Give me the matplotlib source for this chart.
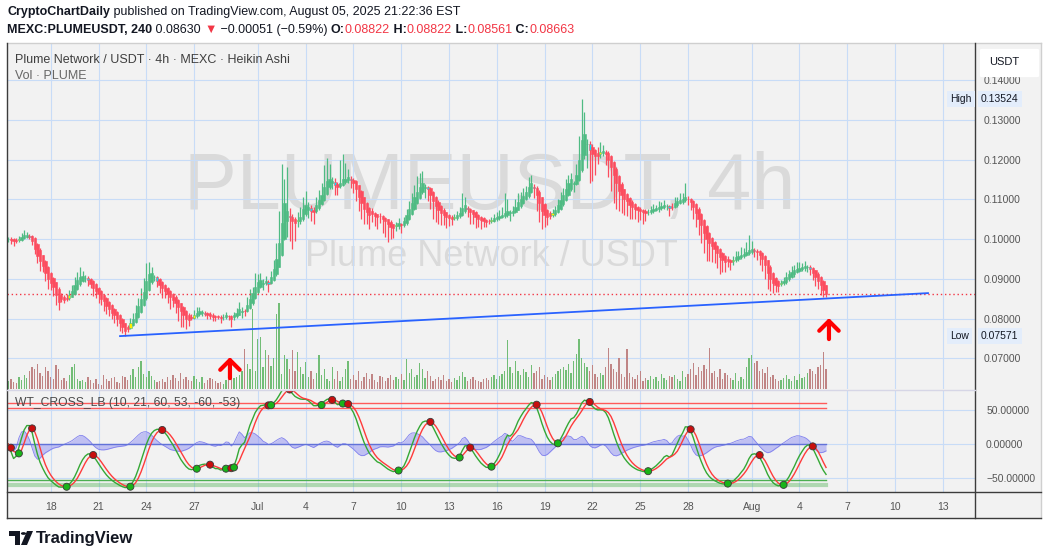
import numpy as np
import pandas as pd
import matplotlib
matplotlib.use("Agg")
import matplotlib.pyplot as plt
from matplotlib.patches import Rectangle, FancyBboxPatch, Polygon, Circle
from matplotlib.lines import Line2D
from matplotlib.transforms import blended_transform_factory

plt.rcParams['font.family'] = ['Liberation Sans', 'DejaVu Sans']

W, H, DPI = 1050, 557, 100

# ---- data: PLUME/USDT 4h Heikin Ashi (prices in 1e-4 USDT) ----
ha_close = [
    1000, 998, 995, 996, 1000, 1005, 1010, 1010, 1006, 996,
    975, 958, 945, 932, 915, 900, 890, 880, 860, 842,
    850, 848, 850, 860, 870, 885, 898, 905, 907,
    903, 898, 888, 878, 870, 862, 850, 845, 832, 825,
    815, 810, 800, 788, 778, 770, 775, 790, 800, 815,
    832, 850, 868, 895, 912, 915, 905, 895, 885,
    878, 870, 862, 855, 848, 838, 830, 818, 810, 800,
    796, 802, 810, 815, 818, 815, 812, 810, 807, 805,
    803, 805, 802, 805, 808, 806, 800, 808, 815,
    825, 820, 818, 835, 850, 865, 880, 892, 897, 890,
    895, 888, 905, 925, 950, 990, 1040, 1090, 1070, 1055,
    1045, 1040, 1048, 1055, 1075, 1085, 1080, 1070, 1068, 1085,
    1098, 1110, 1130, 1145, 1150, 1145, 1135, 1130, 1140,
    1150, 1152, 1155, 1148, 1140, 1125, 1105, 1090, 1075, 1068,
    1060, 1062, 1058, 1055, 1058, 1050, 1045, 1038, 1030, 1028,
    1035, 1040, 1035, 1045, 1060, 1075, 1090, 1105, 1118, 1130,
    1140, 1132, 1125, 1110, 1095, 1082, 1072, 1065, 1060,
    1055, 1052, 1050, 1055, 1060, 1065, 1078, 1085, 1075, 1068,
    1062, 1055, 1050, 1048, 1045, 1043, 1045, 1048, 1052, 1055,
    1058, 1060, 1065, 1070, 1066, 1070, 1080, 1092, 1100,
    1108, 1118, 1130, 1140, 1128, 1110, 1090, 1070, 1060, 1055,
    1058, 1065, 1072, 1085, 1098, 1110, 1125, 1140, 1150, 1140,
    1160, 1200, 1250, 1265, 1240, 1225, 1215, 1210, 1210,
    1218, 1222, 1215, 1200, 1180, 1160, 1140, 1120, 1110, 1100,
    1095, 1085, 1080, 1075, 1072, 1070, 1068, 1065, 1068, 1072,
    1075, 1078, 1080, 1082, 1085, 1083, 1078, 1080, 1090,
    1095, 1098, 1100, 1105, 1100, 1092, 1080, 1065, 1050, 1035,
    1015, 1000, 990, 982, 975, 965, 955, 948, 942, 945,
    942, 948, 955, 958, 960, 962, 968, 972, 975, 970,
    968, 960, 950, 935, 915, 900, 890, 885, 882,
    890, 895, 905, 912, 918, 922, 925, 928, 930, 932,
    930, 925, 915, 905, 895, 885, 872, 862,
]
up_wick = [
    5, 4, 3, 6, 8, 10, 13, 8, 4, 3,
    3, 2, 4, 2, 3, 2, 3, 2, 2, 3,
    6, 5, 10, 12, 15, 20, 18, 25, 12,
    6, 4, 3, 2, 3, 2, 2, 3, 2, 2,
    2, 3, 2, 2, 3, 2, 6, 12, 15, 18,
    20, 28, 35, 45, 30, 15, 5, 3, 3,
    3, 2, 3, 2, 2, 3, 2, 2, 3, 2,
    4, 8, 12, 15, 10, 6, 5, 4, 6, 4,
    3, 5, 4, 6, 8, 4, 3, 8, 12,
    18, 10, 6, 20, 25, 15, 35, 20, 18, 10,
    12, 6, 15, 22, 40, 80, 150, 60, 110, 20,
    8, 6, 20, 25, 30, 35, 12, 8, 6, 20,
    25, 30, 55, 60, 40, 12, 10, 6, 60,
    65, 40, 20, 8, 4, 3, 2, 3, 2, 3,
    2, 8, 3, 2, 6, 3, 2, 2, 3, 2,
    8, 12, 4, 10, 15, 20, 25, 30, 40, 35,
    30, 6, 4, 3, 2, 2, 3, 2, 3,
    2, 3, 4, 8, 10, 15, 38, 20, 5, 3,
    2, 3, 2, 2, 3, 2, 6, 8, 10, 12,
    15, 20, 50, 30, 8, 12, 20, 25, 18,
    20, 15, 26, 22, 8, 4, 3, 2, 3, 2,
    6, 10, 12, 15, 20, 18, 25, 20, 15, 6,
    30, 60, 102.4, 55, 12, 8, 6, 4, 15,
    25, 15, 6, 4, 3, 2, 3, 2, 3, 2,
    3, 2, 4, 3, 2, 4, 3, 5, 8, 10,
    12, 8, 15, 10, 12, 6, 4, 10, 15,
    12, 18, 15, 36, 8, 4, 3, 2, 3, 2,
    2, 3, 2, 3, 2, 2, 3, 2, 3, 8,
    4, 10, 15, 12, 20, 15, 25, 38, 20, 6,
    4, 3, 2, 3, 2, 3, 2, 3, 4,
    8, 10, 12, 10, 15, 12, 18, 15, 10, 12,
    6, 4, 3, 2, 3, 2, 3, 2,
]
dn_wick = [
    8, 10, 12, 6, 4, 3, 2, 3, 6, 10,
    12, 18, 25, 15, 20, 25, 18, 22, 26, 20,
    8, 10, 5, 3, 2, 3, 2, 3, 4,
    8, 15, 12, 20, 18, 22, 15, 25, 20, 18,
    15, 22, 18, 20, 15, 12.9, 8, 3, 2, 3,
    2, 3, 2, 3, 4, 6, 10, 15, 20,
    25, 18, 22, 30, 20, 25, 35, 40, 30, 25,
    15, 6, 3, 4, 5, 8, 6, 10, 8, 12,
    10, 6, 12, 8, 5, 10, 20, 6, 3,
    2, 15, 12, 3, 2, 3, 2, 4, 3, 15,
    5, 20, 3, 2, 3, 2, 3, 2, 40, 60,
    70, 45, 15, 8, 5, 4, 20, 25, 30, 6,
    4, 3, 2, 3, 5, 15, 25, 18, 6,
    3, 5, 8, 20, 25, 30, 35, 40, 38, 30,
    35, 20, 25, 30, 18, 35, 40, 45, 30, 25,
    12, 8, 20, 6, 4, 3, 2, 3, 2, 3,
    4, 25, 30, 35, 45, 40, 35, 30, 25,
    28, 20, 15, 6, 5, 4, 3, 5, 20, 30,
    25, 28, 20, 22, 15, 12, 6, 4, 3, 5,
    4, 3, 5, 6, 20, 8, 3, 2, 4,
    3, 2, 5, 4, 25, 40, 47, 45, 30, 20,
    8, 5, 4, 3, 2, 3, 4, 3, 5, 20,
    4, 3, 6, 10, 60, 84, 70, 50, 20,
    10, 8, 30, 45, 60, 70, 65, 50, 45, 40,
    37, 35, 30, 25, 28, 22, 30, 20, 8, 5,
    4, 3, 6, 5, 4, 10, 20, 6, 3,
    4, 3, 5, 4, 15, 20, 30, 35, 40, 45,
    50, 55, 45, 40, 35, 38, 42, 30, 25, 15,
    20, 10, 5, 6, 4, 5, 3, 4, 6, 15,
    20, 25, 30, 35, 40, 30, 25, 18, 15,
    6, 4, 5, 3, 4, 6, 3, 4, 5, 8,
    12, 15, 18, 22, 20, 25, 18, 7,
]
volume = [
    8, 10, 7, 6, 12, 9, 14, 11, 18, 22,
    20, 25, 16, 13, 22, 18, 12, 10, 24, 20,
    9, 11, 8, 14, 22, 25, 10, 8, 9,
    7, 12, 9, 6, 10, 5, 4, 14, 10, 8,
    11, 12, 7, 6, 13, 12, 9, 14, 20, 12,
    22, 28, 15, 12, 18, 13, 9, 7, 8,
    10, 7, 12, 9, 14, 11, 8, 16, 10, 12,
    9, 8, 13, 10, 7, 12, 6, 9, 11, 10,
    8, 6, 7, 5, 9, 10, 12, 11, 12,
    14, 18, 39, 25, 20, 79, 18, 49, 51, 22,
    38, 33, 23, 30, 74, 85, 15, 33, 29, 20,
    38, 18, 36, 22, 15, 27, 12, 18, 10, 16,
    33, 14, 20, 10, 8, 22, 10, 18, 8,
    12, 20, 28, 10, 14, 9, 18, 8, 12, 16,
    10, 15, 9, 7, 13, 12, 8, 11, 14, 9,
    12, 10, 15, 9, 29, 16, 20, 12, 14, 26,
    20, 11, 18, 13, 8, 10, 12, 9, 14,
    8, 10, 7, 11, 9, 13, 17, 12, 8, 10,
    12, 9, 8, 7, 10, 11, 9, 12, 14, 10,
    13, 15, 18, 48, 22, 16, 28, 18, 14,
    20, 17, 12, 24, 16, 18, 22, 10, 14, 12,
    9, 12, 15, 18, 20, 22, 19, 25, 16, 28,
    34, 49, 30, 26, 22, 18, 24, 15, 12,
    16, 14, 22, 40, 25, 20, 17, 30, 15, 12,
    39, 16, 12, 10, 14, 18, 8, 11, 9, 13,
    10, 12, 8, 15, 11, 9, 13, 12, 14,
    10, 8, 18, 12, 15, 20, 26, 14, 22, 18,
    24, 20, 40, 16, 18, 12, 20, 10, 16, 14,
    11, 9, 16, 8, 12, 10, 22, 30, 33, 26,
    28, 18, 20, 16, 22, 12, 14, 10, 8,
    9, 11, 14, 10, 8, 13, 9, 15, 11, 12,
    16, 20, 18, 15, 22, 24, 36, 20,
]

START = pd.Timestamp("2025-06-15 08:00")  # first 4h bar
tick_dates = ["2025-06-18", "2025-06-21", "2025-06-24", "2025-06-27", "2025-07-01",
              "2025-07-04", "2025-07-07", "2025-07-10", "2025-07-13", "2025-07-16",
              "2025-07-19", "2025-07-22", "2025-07-25", "2025-07-28", "2025-08-01",
              "2025-08-04", "2025-08-07", "2025-08-10", "2025-08-13"]
tick_labels = ["18", "21", "24", "27", "Jul", "4", "7", "10", "13", "16",
               "19", "22", "25", "28", "Aug", "4", "7", "10", "13"]
price_ticks = [0.07, 0.08, 0.09, 0.10, 0.11, 0.12, 0.13, 0.14]
wt_ticks = [50, 0, -50]

LAST_PRICE = 0.08630
header_ohlc = [("O", 0.08822), ("H", 0.08822), ("L", 0.08561), ("C", 0.08663)]
trend_bars = [42.1, 346.4]
trend_prices = [0.07560, 0.08641]
arrow_bars = [83.5, 309.1]
arrow_tips = [0.07031, 0.08013]

# ---- Heikin Ashi bars ----
c = np.array(ha_close, dtype=float) / 1e4
n = len(c)
o = np.empty(n)
o[0] = c[0]
for k in range(1, n):
    o[k] = (o[k - 1] + c[k - 1]) / 2
hi = np.maximum(o, c) + np.array(up_wick) / 1e4
lo = np.minimum(o, c) - np.array(dn_wick) / 1e4
up = c >= o
xs = np.arange(n)

# first bar of a new colour after a run -> yellow / cyan highlight
flag = np.zeros(n, dtype=bool)
run = 1
for k in range(1, n):
    if up[k] != up[k - 1]:
        flag[k] = run >= 3
        run = 1
    else:
        run += 1

# ---- WaveTrend (10, 21) ----
ap = pd.Series((hi + lo + c) / 3)
esa = ap.ewm(span=10).mean()
dd = (ap - esa).abs().ewm(span=10).mean()
ci = ((ap - esa) / (0.015 * dd)).replace([np.inf, -np.inf], np.nan).fillna(0)
wt1 = ci.ewm(span=21, adjust=False).mean().values
wt2 = pd.Series(wt1).rolling(4, min_periods=1).mean().values
diff = wt1 - wt2

# ---- layout (pixels) ----
LEFT, RIGHT, TOP, PANE_BOT, IND_TOP, IND_BOT, AX_BOT, FRAME_R = 7, 975, 43, 389, 391, 492, 518, 1041
X_LEFT, X_RIGHT = -0.47, 364.1
P_TOP, P_BOT = 0.1493, 0.0623
WT_TOP, WT_BOT = 77.9, -70.6

def fx(px):
    return px / W

def fy(py):
    return 1 - py / H

GREEN, RED = '#4fbb83', '#fc4c5e'
GRID = '#c8dcf7'
TXT = '#555555'

fig = plt.figure(figsize=(W / DPI, H / DPI), dpi=DPI)
fig.patch.set_facecolor('white')
fig.add_artist(Rectangle((fx(LEFT), fy(AX_BOT)), fx(FRAME_R - LEFT), (AX_BOT - TOP) / H,
                         transform=fig.transFigure, facecolor='#f2f2f2', edgecolor='none', zorder=-5))

tick_pos = [(pd.Timestamp(d) - START) / pd.Timedelta(hours=4) for d in tick_dates]

# ---- main pane ----
ax = fig.add_axes([fx(LEFT), fy(PANE_BOT), fx(RIGHT - LEFT), (PANE_BOT - TOP) / H])
ax.patch.set_visible(False)
ax.set_xlim(X_LEFT, X_RIGHT)
ax.set_ylim(P_BOT, P_TOP)
ax.set_xticks(tick_pos)
ax.set_yticks(price_ticks)
ax.grid(True, color=GRID, lw=0.8, zorder=0)
ax.set_axisbelow(True)
ax.yaxis.tick_right()
ax.set_yticklabels([f"{p:.5f}" for p in price_ticks])
ax.tick_params(axis='y', length=0, pad=6, labelsize=7.5, labelcolor=TXT)
ax.tick_params(axis='x', length=0, labelbottom=False)
for s in ax.spines.values():
    s.set_visible(False)

# volume along the bottom quarter of the pane
tr = blended_transform_factory(ax.transData, ax.transAxes)
vol = np.array(volume, dtype=float)
ax.bar(xs, vol / vol.max() * 0.25, width=0.5, bottom=0, transform=tr,
       color=np.where(up, '#72bd76', '#c08585'), zorder=1)

# candles
ax.vlines(xs, lo, hi, colors=np.where(up, GREEN, RED), lw=0.9, zorder=2)
body_lo = np.minimum(o, c)
body_h = np.maximum(np.abs(c - o), 0.00012)
face = np.where(flag, np.where(up, '#ffee00', '#00e5ff'), np.where(up, GREEN, RED))
ax.bar(xs, body_h, width=0.85, bottom=body_lo, color=face,
       edgecolor=np.where(up, GREEN, RED), lw=0.4, zorder=3)

ax.axhline(LAST_PRICE, color='#f23645', ls=(0, (1, 2)), lw=1, zorder=2)
ax.plot(trend_bars, trend_prices, color='#2962ff', lw=1.3, zorder=4)
for xb, pt in zip(arrow_bars, arrow_tips):
    ax.annotate('', xy=(xb, pt), xytext=(0, -21), textcoords='offset pixels',
                arrowprops=dict(arrowstyle='->,head_length=0.7,head_width=0.7', color='#ff0000',
                                lw=3.0, shrinkA=0, shrinkB=0), zorder=5)

# ---- indicator pane ----
axi = fig.add_axes([fx(LEFT), fy(IND_BOT), fx(RIGHT - LEFT), (IND_BOT - IND_TOP) / H])
axi.patch.set_visible(False)
axi.set_xlim(X_LEFT, X_RIGHT)
axi.set_ylim(WT_BOT, WT_TOP)
axi.set_xticks(tick_pos)
axi.set_xticklabels(tick_labels)
axi.set_yticks(wt_ticks)
axi.set_yticklabels([f"{v:.5f}".replace('-', '\u2212') for v in wt_ticks])
axi.grid(True, color=GRID, lw=0.8, zorder=0)
axi.set_axisbelow(True)
axi.yaxis.tick_right()
axi.tick_params(axis='y', length=0, pad=8, labelsize=7.5, labelcolor=TXT)
axi.tick_params(axis='x', length=0, pad=7, labelsize=7.5, labelcolor=TXT)
for s in axi.spines.values():
    s.set_visible(False)

xr = [0, n - 1]
axi.plot(xr, [60, 60], color='#ff5a5a', lw=1, zorder=1)
axi.plot(xr, [53, 53], color='#ff5a5a', lw=1, zorder=1)
axi.plot(xr, [-53, -53], color='#4caf50', lw=1, zorder=1)
axi.plot(xr, [-60, -60], color='#4caf50', lw=3, alpha=0.4, zorder=1)
axi.fill_between(xs, 0, diff, color='#8f8ff2', alpha=0.5, lw=0, zorder=1)
axi.plot(xs, diff, color='#8080ee', lw=0.6, zorder=1)
axi.plot(xr, [0, 0], color='#6272d8', lw=1, zorder=1)
axi.plot(xs, wt1, color='#35a835', lw=1, zorder=2)
axi.plot(xs, wt2, color='#ff3b3b', lw=1, zorder=2)
cross = np.where(np.sign(diff[1:]) != np.sign(diff[:-1]))[0] + 1
axi.scatter(xs[cross], wt2[cross], s=26, zorder=3, edgecolors='#3a3a3a', linewidths=0.6,
            c=np.where(diff[cross] > 0, '#19b419', '#c80f0f'))

# ---- frame ----
def fline(x0, y0, x1, y1, color='#3c3c3c', lw=1.0):
    fig.add_artist(Line2D([fx(x0), fx(x1)], [fy(y0), fy(y1)], transform=fig.transFigure,
                          color=color, lw=lw, zorder=4))

fline(LEFT, TOP, FRAME_R, TOP, '#cfcfcf')
fline(LEFT, TOP, LEFT, AX_BOT)
fline(FRAME_R, TOP, FRAME_R, AX_BOT, '#cfcfcf')
fline(LEFT, AX_BOT, FRAME_R, AX_BOT)
fline(RIGHT, TOP, RIGHT, AX_BOT)
fline(LEFT, IND_BOT, FRAME_R, IND_BOT)
fline(LEFT, PANE_BOT + 1, RIGHT, PANE_BOT + 1, '#d6d6e6')

# watermark
fig.text(fx(490), fy(189), "PLUMEUSDT, 4h", fontsize=57, color='#dadada', ha='center', va='center', zorder=-4)
fig.text(fx(491), fy(257), "Plume Network / USDT", fontsize=26, color='#dadada', ha='center', va='center', zorder=-4)

# pane legends
fig.text(fx(15), fy(60), "Plume Network / USDT \u00b7 4h \u00b7 MEXC \u00b7 Heikin Ashi", fontsize=9, color='#3f3f3f', va='center')
fig.text(fx(15), fy(76), "Vol \u00b7 PLUME", fontsize=9, color='#666666', va='center')
fig.text(fx(15), fy(403), "WT_CROSS_LB (10, 21, 60, 53, -60, -53)", fontsize=8.7, color='#4a4a4a', va='center')

# USDT box on price scale
fig.add_artist(FancyBboxPatch((fx(982), fy(76)), fx(55), 26 / H, boxstyle='round,pad=0.002',
                              transform=fig.transFigure, facecolor='white', edgecolor='none', zorder=5))
fig.text(fx(989), fy(62), "USDT", fontsize=8, color='#131722', va='center', zorder=6)

# visible range high / low labels
fig.canvas.draw()
for label, val in [("High", hi.max()), ("Low", lo.min())]:
    ypx = ax.transData.transform((0, val))[1]
    fig.text(fx(950), ypx / H, label, fontsize=7.5, color='#131722', va='center', zorder=6,
             bbox=dict(boxstyle='square,pad=0.3', facecolor='#e3edfb', edgecolor='none'))
    fig.text(fx(981), ypx / H, f"{val:.5f}", fontsize=7.5, color='#131722', va='center', zorder=6,
             bbox=dict(boxstyle='square,pad=0.3', facecolor='#e3edfb', edgecolor='none'))

# ---- header lines ----
renderer = fig.canvas.get_renderer()

def text_runs(parts, x, y, size):
    for s, color, weight in parts:
        t = fig.text(fx(x), fy(y), s, fontsize=size, color=color, fontweight=weight, va='center', ha='left')
        x += t.get_window_extent(renderer=renderer).width

DARK, HRED = '#131722', '#f23645'
text_runs([("CryptoChartDaily", DARK, 'bold'),
           (" published on TradingView.com, August 05, 2025 21:22:36 EST", DARK, 'normal')], 7, 12, 9)
line2 = [("MEXC:PLUMEUSDT, 240", DARK, 'bold'), (f" {LAST_PRICE:.5f} ", DARK, 'normal'),
         ("\u25bc", HRED, 'normal'), (" \u22120.00051 (\u22120.59%) ", DARK, 'normal')]
for i, (k, v) in enumerate(header_ohlc):
    line2.append(((" " if i else "") + k + ":", DARK, 'bold'))
    line2.append((f"{v:.5f}", HRED, 'normal'))
text_runs(line2, 7, 30, 9)

# ---- TradingView logo ----
fig.add_artist(Polygon([(fx(9), fy(531)), (fx(20), fy(531)), (fx(20), fy(545)), (fx(15), fy(545)),
                        (fx(15), fy(536)), (fx(9), fy(536))], closed=True, transform=fig.transFigure,
                       facecolor='#131722', edgecolor='none'))
fig.add_artist(Circle((fx(23.5), fy(533.5)), 2.6 / W, transform=fig.transFigure, facecolor='#131722'))
fig.add_artist(Polygon([(fx(27), fy(531)), (fx(33), fy(531)), (fx(27), fy(545)), (fx(21), fy(545))],
                       closed=True, transform=fig.transFigure, facecolor='#131722', edgecolor='none'))
fig.text(fx(36), fy(538), "TradingView", fontsize=12, fontweight='bold', color='#131722', va='center')

fig.savefig("out.png", dpi=DPI)
